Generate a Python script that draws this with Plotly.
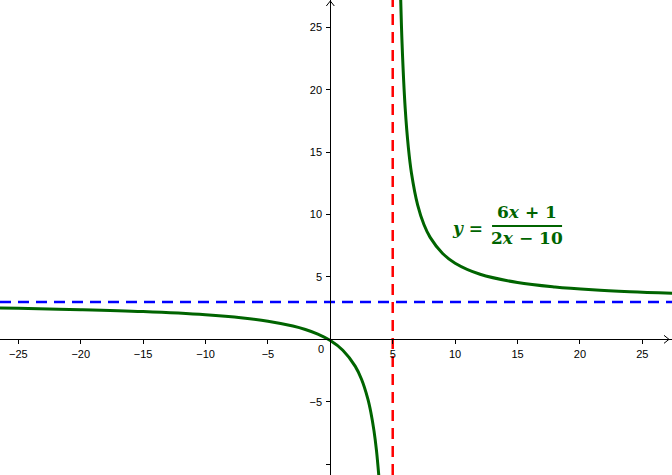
import plotly.graph_objects as go

# Axis ticks
x_ticks = [-25, -20, -15, -10, -5, 5, 10, 15, 20, 25]
x_tick_labels = ["−25", "−20", "−15", "−10", "−5", "5", "10", "15", "20", "25"]
y_ticks = [-10, -5, 5, 10, 15, 20, 25]
y_tick_labels = ["", "−5", "5", "10", "15", "20", "25"]

# Curve y = (6x+1)/(2x-10)
left_x = [-26.5, -25, -20, -15, -10, -7, -5, -3, -2, -1, 0, 1, 2, 2.5, 3, 3.25, 3.5, 3.7, 3.9]
left_y = [2.508, 2.483, 2.38, 2.225, 1.967, 1.708, 1.45, 1.0625, 0.786, 0.417, -0.1, -0.875,
          -2.167, -3.2, -4.75, -5.857, -7.333, -8.923, -11.09]
right_x = [5.6, 5.75, 6, 6.25, 6.5, 7, 7.5, 8, 9, 10, 12, 15, 18, 21, 24, 27.5]
right_y = [28.83, 23.67, 18.5, 15.4, 13.33, 10.75, 9.2, 8.167, 6.875, 6.1, 5.214, 4.55,
           4.192, 3.969, 3.816, 3.689]

# Asymptotes
vertical_asymptote = 5
horizontal_asymptote = 3

x_range = [-26.47, 27.38]
y_range = [-10.87, 27.19]

green = "#006400"

fig = go.Figure()
fig.add_trace(go.Scatter(x=[x_range[0], x_range[1]], y=[horizontal_asymptote] * 2, mode="lines",
                         line=dict(color="#0000FF", width=2.5, dash="11px,7px"), hoverinfo="skip"))
fig.add_trace(go.Scatter(x=[vertical_asymptote] * 2, y=[y_range[0], y_range[1]], mode="lines",
                         line=dict(color="#FF0000", width=2.5, dash="11px,7px"), hoverinfo="skip"))
fig.add_trace(go.Scatter(x=left_x, y=left_y, mode="lines",
                         line=dict(color=green, width=3, shape="spline"), hoverinfo="skip"))
fig.add_trace(go.Scatter(x=right_x, y=right_y, mode="lines",
                         line=dict(color=green, width=3, shape="spline"), hoverinfo="skip"))

xpos = (0 - y_range[0]) / (y_range[1] - y_range[0])
ypos = (0 - x_range[0]) / (x_range[1] - x_range[0])

tickfont = dict(family="Liberation Sans, Arial, sans-serif", size=11, color="#000000")

fig.update_layout(
    width=672, height=475,
    margin=dict(l=0, r=0, t=0, b=0),
    paper_bgcolor="white", plot_bgcolor="white",
    showlegend=False,
    xaxis=dict(range=x_range, anchor="free", position=xpos, showgrid=False, zeroline=False,
               showline=True, linecolor="black", linewidth=1,
               tickmode="array", tickvals=x_ticks, ticktext=x_tick_labels,
               ticks="outside", ticklen=4, tickcolor="black", tickfont=tickfont),
    yaxis=dict(range=y_range, anchor="free", position=ypos, showgrid=False, zeroline=False,
               showline=True, linecolor="black", linewidth=1,
               tickmode="array", tickvals=y_ticks, ticktext=y_tick_labels,
               ticks="outside", ticklen=4, tickcolor="black", tickfont=tickfont,
               ticklabelstandoff=2),
)

# origin label
fig.add_annotation(x=0, y=0, text="0", showarrow=False, xshift=-9.5, yshift=-10,
                   font=tickfont)

# axis arrows
arrow_line = dict(color="black", width=1)
fig.add_shape(type="line", xsizemode="pixel", ysizemode="pixel", xanchor=x_range[1], yanchor=0,
              x0=-8, y0=4, x1=-3, y1=0, line=arrow_line)
fig.add_shape(type="line", xsizemode="pixel", ysizemode="pixel", xanchor=x_range[1], yanchor=0,
              x0=-8, y0=-4, x1=-3, y1=0, line=arrow_line)
fig.add_shape(type="line", xsizemode="pixel", ysizemode="pixel", xanchor=0, yanchor=y_range[1],
              x0=-4, y0=-6, x1=0, y1=-1, line=arrow_line)
fig.add_shape(type="line", xsizemode="pixel", ysizemode="pixel", xanchor=0, yanchor=y_range[1],
              x0=4, y0=-6, x1=0, y1=-1, line=arrow_line)

# equation label
eqfont = dict(family="DejaVu Serif, serif", size=17, color=green)
fig.add_annotation(x=11.0, y=8.92, text="<b><i>y</i> =</b>", showarrow=False, font=eqfont)
fig.add_annotation(x=15.76, y=10.2, text="<b>6<i>x</i> + 1</b>", showarrow=False, font=eqfont)
fig.add_annotation(x=15.76, y=8.12, text="<b>2<i>x</i> − 10</b>", showarrow=False, font=eqfont)
fig.add_shape(type="line", x0=12.96, x1=18.57, y0=9.08, y1=9.08, line=dict(color=green, width=1.8))

fig.write_html("out.html", config={"displayModeBar": False},
               post_script="document.body.style.margin='0px';")
